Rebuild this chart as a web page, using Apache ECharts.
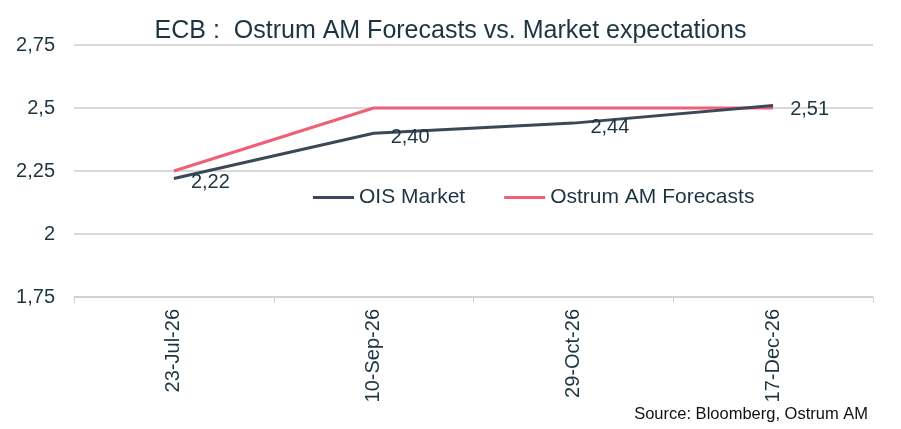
<!DOCTYPE html>
<html>
<head>
<meta charset="utf-8">
<script src="https://cdn.jsdelivr.net/npm/echarts@6.0.0/dist/echarts.min.js"></script>
<style>
  html, body { margin: 0; padding: 0; background: #fff; }
  #chart { width: 901px; height: 429px; }
</style>
</head>
<body>
<div id="chart"></div>
<script>
const categories = ['23-Jul-26', '10-Sep-26', '29-Oct-26', '17-Dec-26'];
const oisMarket = [2.22, 2.40, 2.44, 2.51];
const ostrumForecasts = [2.25, 2.5, 2.5, 2.5];

const textColor = '#1c3540';
const font = 'Liberation Sans, Arial, sans-serif';

const chart = echarts.init(document.getElementById('chart'));
chart.setOption({
  animation: false,
  textStyle: { fontFamily: font },
  title: {
    text: 'ECB :  Ostrum AM Forecasts vs. Market expectations',
    left: 'center',
    top: 14,
    textStyle: { fontSize: 25, fontWeight: 'normal', color: textColor, fontFamily: font }
  },
  legend: {
    top: 182,
    left: 308,
    itemWidth: 41,
    itemHeight: 3,
    itemGap: 39,
    icon: 'rect',
    textStyle: { fontSize: 21, color: textColor, fontFamily: font },
    data: ['OIS Market', 'Ostrum AM Forecasts']
  },
  grid: { left: 74, right: 28, top: 45, bottom: 132 },
  xAxis: {
    type: 'category',
    data: categories,
    boundaryGap: true,
    axisLine: { lineStyle: { color: '#d0d0d0', width: 1.5 } },
    axisTick: { show: true, length: 6, lineStyle: { color: '#d0d0d0' } },
    axisLabel: { rotate: 90, fontSize: 20, color: textColor, margin: 12, fontFamily: font }
  },
  yAxis: {
    type: 'value',
    min: 1.75,
    max: 2.75,
    interval: 0.25,
    axisLine: { show: false },
    axisTick: { show: false },
    splitLine: { lineStyle: { color: '#d9d9d9', width: 2 } },
    axisLabel: {
      fontSize: 20, color: textColor, margin: 19, fontFamily: font,
      formatter: v => String(+v.toFixed(2)).replace('.', ',')
    }
  },
  series: [
    {
      name: 'OIS Market',
      type: 'line',
      data: oisMarket,
      symbol: 'circle',
      symbolSize: 0,
      showSymbol: true,
      z: 3,
      lineStyle: { color: '#3c4858', width: 3 },
      itemStyle: { color: '#3c4858' },
      label: {
        show: true,
        position: 'right',
        distance: 17,
        offset: [0, 4],
        fontSize: 20,
        color: textColor,
        fontFamily: font,
        formatter: p => p.value.toFixed(2).replace('.', ',')
      }
    },
    {
      name: 'Ostrum AM Forecasts',
      type: 'line',
      data: ostrumForecasts,
      symbol: 'none',
      z: 2,
      lineStyle: { color: '#ef5f78', width: 3 },
      itemStyle: { color: '#ef5f78' }
    }
  ],
  graphic: [{
    type: 'text',
    right: 33,
    top: 406,
    style: {
      text: 'Source: Bloomberg, Ostrum AM',
      fontSize: 16.5,
      fill: '#111',
      fontFamily: font
    }
  }]
});
</script>
</body>
</html>
